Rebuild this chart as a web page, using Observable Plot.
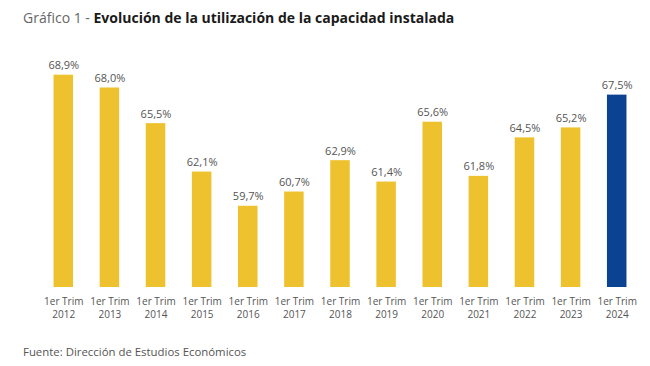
<!DOCTYPE html>
<html>
<head>
<meta charset="utf-8">
<script src="https://cdn.jsdelivr.net/npm/d3@7"></script>
<script src="https://cdn.jsdelivr.net/npm/@observablehq/plot@0.6"></script>
<style>
  html, body { margin: 0; padding: 0; background: #fff; width: 650px; height: 366px; overflow: hidden; }
  body { font-family: "Open Sans", sans-serif; }
  #title { height: 38px; box-sizing: border-box; padding: 9px 0 0 23px; font-size: 14px; line-height: 18px; color: #222; white-space: nowrap; }
  #title .lead { color: #666; font-weight: 400; }
  #title b { font-weight: 700; color: #1a1a1a; }
  #chart svg { display: block; }
  #caption { height: 28px; box-sizing: border-box; padding: 6px 0 0 23px; font-size: 11.4px; line-height: 16px; color: #555; white-space: nowrap; }
</style>
</head>
<body>
<div id="title"><span class="lead">Gráfico 1 - </span><b>Evolución de la utilización de la capacidad instalada</b></div>
<div id="chart"></div>
<div id="caption">Fuente: Dirección de Estudios Económicos</div>
<script>
const quarter = "1er Trim";
const years = ["2012","2013","2014","2015","2016","2017","2018","2019","2020","2021","2022","2023","2024"];
const values = [68.9, 68.0, 65.5, 62.1, 59.7, 60.7, 62.9, 61.4, 65.6, 61.8, 64.5, 65.2, 67.5];
const highlightYear = "2024";

const data = years.map((y, i) => ({year: y, value: values[i]}));
const fmt = v => v.toFixed(1).replace(".", ",") + "%";

const chart = Plot.plot({
  width: 650,
  height: 300,
  marginLeft: 40,
  marginRight: 10,
  marginTop: 21,
  marginBottom: 51,
  style: {fontFamily: "'Open Sans', sans-serif", background: "#fff"},
  x: {domain: years, range: [39.7, 640.3], round: false, paddingInner: 0.577, paddingOuter: 0.3, axis: null, label: null},
  y: {domain: [54, 70], axis: null, label: null},
  marks: [
    Plot.barY(data, {x: "year", y1: 54, y2: "value", fill: d => d.year === highlightYear ? "#0B4392" : "#EEC22F"}),
    Plot.text(data, {x: "year", y: "value", text: d => fmt(d.value), dy: -6, lineAnchor: "bottom", fontSize: 11, fill: "#555"}),
    Plot.axisX({label: null, tickSize: 0, tickPadding: 8, fontSize: 10, lineHeight: 1.3, color: "#555", tickFormat: y => quarter + "\n" + y})
  ]
});
document.getElementById("chart").appendChild(chart);
</script>
</body>
</html>
